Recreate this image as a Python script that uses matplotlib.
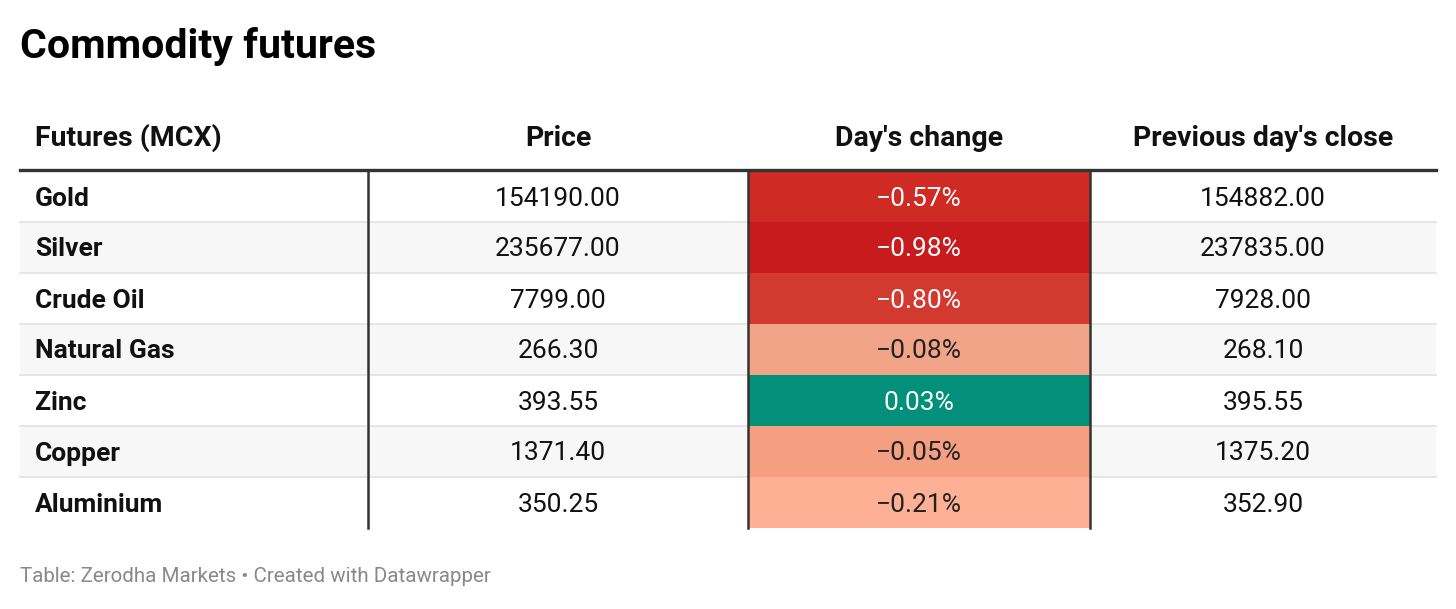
import matplotlib.pyplot as plt
from matplotlib.patches import Rectangle

# table data
commodities = ["Gold", "Silver", "Crude Oil", "Natural Gas", "Zinc", "Copper", "Aluminium"]
price = ["154190.00", "235677.00", "7799.00", "266.30", "393.55", "1371.40", "350.25"]
change = ["\u22120.57%", "\u22120.98%", "\u22120.80%", "\u22120.08%", "0.03%", "\u22120.05%", "\u22120.21%"]
prev_close = ["154882.00", "237835.00", "7928.00", "268.10", "395.55", "1375.20", "352.90"]
headers = ["Futures (MCX)", "Price", "Day's change", "Previous day's close"]

# cell colours for the change column, as seen in the picture
change_colors = ["#cf2a24", "#c81b1e", "#d33a2f", "#f2a488", "#02907a", "#f59f82", "#feb094"]
change_text = ["white", "white", "white", "#222222", "white", "#222222", "#222222"]

plt.rcParams['font.family'] = ['Roboto', 'DejaVu Sans']

W, H = 1456, 609
fig = plt.figure(figsize=(W / 100, H / 100), dpi=100)
ax = fig.add_axes([0, 0, 1, 1])
ax.set_xlim(0, W)
ax.set_ylim(H, 0)
ax.axis('off')

left, right = 20, 1436
col_edges = [left, 368, 748, 1090, right]
top = 171
row_h = 51
dy = 2  # nudge text down a touch

fig.text(20 / W, 1 - 46 / H, "Commodity futures", fontsize=29.5, fontweight='bold',
         va='center', ha='left', color='#000000')

# header
hy = 136 + dy
for i, h in enumerate(headers):
    if i == 0:
        ax.text(35, hy, h, fontsize=20.5, fontweight='bold', va='center', ha='left', color='#111111')
    else:
        ax.text((col_edges[i] + col_edges[i + 1]) / 2, hy, h, fontsize=20.5, fontweight='bold',
                va='center', ha='center', color='#111111')

# rows
for r, name in enumerate(commodities):
    y0 = top + r * row_h
    yc = y0 + row_h / 2 + dy
    if r % 2 == 1:
        ax.add_patch(Rectangle((left, y0), right - left, row_h, color='#f7f7f7', zorder=0, lw=0))
    ax.add_patch(Rectangle((col_edges[2], y0), col_edges[3] - col_edges[2], row_h,
                           color=change_colors[r], zorder=1, lw=0))
    if r > 0:
        ax.plot([left, right], [y0, y0], color='#e2e2e2', lw=1.2, zorder=0.5)
    ax.text(35, yc, name, fontsize=19, fontweight='bold', va='center', ha='left', color='#111111', zorder=3)
    ax.text((col_edges[1] + col_edges[2]) / 2, yc, price[r], fontsize=19, va='center', ha='center',
            color='#111111', zorder=3)
    ax.text((col_edges[2] + col_edges[3]) / 2, yc, change[r], fontsize=19, va='center', ha='center',
            color=change_text[r], zorder=3)
    ax.text((col_edges[3] + col_edges[4]) / 2, yc, prev_close[r], fontsize=19, va='center', ha='center',
            color='#111111', zorder=3)

bottom = top + len(commodities) * row_h
ax.plot([left, right], [top - 1.5, top - 1.5], color='#333333', lw=2.4, zorder=4)
for x in col_edges[1:4]:
    ax.plot([x, x], [top, bottom], color='#333333', lw=1.8, zorder=4)

fig.text(20 / W, 1 - 577 / H, "Table: Zerodha Markets \u2022 Created with Datawrapper", fontsize=14.8,
         va='center', ha='left', color='#888888')

fig.savefig("out.png", dpi=100, facecolor='white')
